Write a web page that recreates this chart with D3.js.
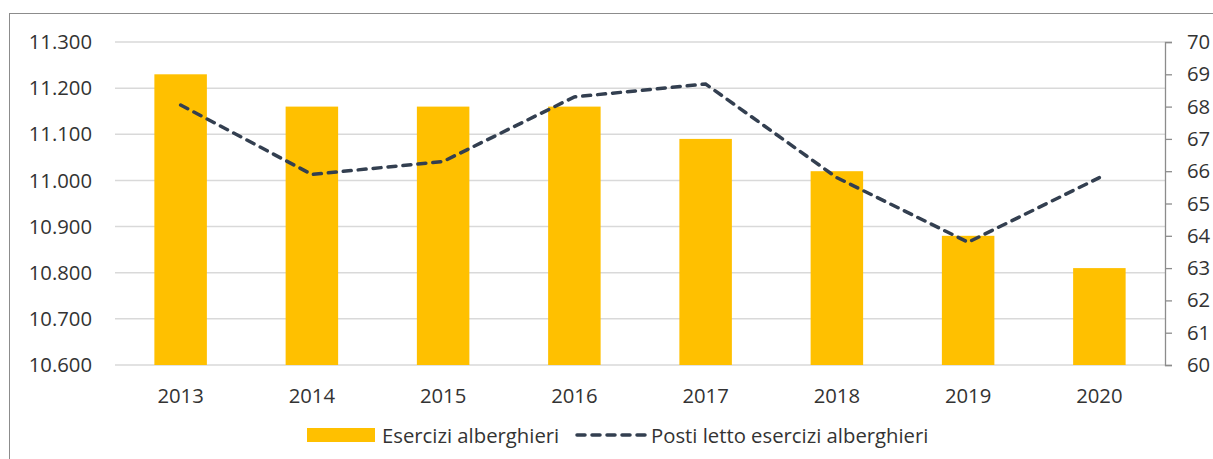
<!DOCTYPE html>
<html>
<head>
<meta charset="utf-8">
<script src="https://cdn.jsdelivr.net/npm/d3@7"></script>
<style>
  body { margin: 0; background: #fff; }
  svg { font-family: "Open Sans", sans-serif; }
</style>
</head>
<body>
<svg id="canvas" width="1213" height="459"></svg>
<script>
// chart data
let years = ['2013', '2014', '2015', '2016', '2017', '2018', '2019', '2020'];
let esercizi = [11230, 11160, 11160, 11160, 11090, 11020, 10880, 10810];
let postiLetto = [68.05, 65.9, 66.3, 68.3, 68.7, 65.8, 63.8, 65.8];
let leftTicks = [10600, 10700, 10800, 10900, 11000, 11100, 11200, 11300];
let rightTicks = [60, 61, 62, 63, 64, 65, 66, 67, 68, 69, 70];

let fontSize = '20.3px';
let textColor = '#333333';
let canvas = d3.select('#canvas');

// outer frame of the chart box
canvas.append('rect')
    .attr('x', 9.5).attr('y', 13.5)
    .attr('width', 1230).attr('height', 470)
    .attr('fill', 'none')
    .attr('stroke', '#8c8c8c')
    .attr('stroke-width', 1);

let plotLeft = 115, plotRight = 1165, plotTop = 42, plotBottom = 365;

let x = d3.scaleBand().domain(years).range([plotLeft, plotRight]).paddingInner(0.6).paddingOuter(0.3);
let yL = d3.scaleLinear().domain([10600, 11300]).range([plotBottom, plotTop]);
let yR = d3.scaleLinear().domain([60, 70]).range([plotBottom, plotTop]);

// gridlines
canvas.append('g')
    .selectAll('line')
    .data(leftTicks)
    .enter()
    .append('line')
    .attr('x1', plotLeft).attr('x2', plotRight)
    .attr('y1', d => yL(d)).attr('y2', d => yL(d))
    .attr('stroke', '#d9d9d9')
    .attr('stroke-width', 1.5);

// bars
canvas.append('g')
    .selectAll('rect')
    .data(esercizi)
    .enter()
    .append('rect')
    .attr('x', (d, i) => x(years[i]))
    .attr('y', d => yL(d))
    .attr('width', x.bandwidth())
    .attr('height', d => plotBottom - yL(d))
    .attr('fill', '#ffc000');

// dashed line
let line = d3.line()
    .x((d, i) => x(years[i]) + x.bandwidth() / 2)
    .y(d => yR(d));

canvas.append('path')
    .datum(postiLetto)
    .attr('d', line)
    .attr('fill', 'none')
    .attr('stroke', '#333f50')
    .attr('stroke-width', 3.5)
    .attr('stroke-dasharray', '8,7')
    .attr('stroke-linecap', 'round');

// left axis labels (italian thousands separator)
let fmtLeft = d => d3.format('.3f')(d / 1000);
canvas.append('g')
    .selectAll('text')
    .data(leftTicks)
    .enter()
    .append('text')
    .attr('x', 92)
    .attr('y', d => yL(d))
    .attr('dy', '0.35em')
    .attr('text-anchor', 'end')
    .style('font-size', fontSize)
    .attr('fill', textColor)
    .text(fmtLeft);

// right axis
let rAxis = d3.axisRight(yR).tickValues(rightTicks).tickSize(7).tickPadding(15).tickFormat(d3.format('d'));
let rg = canvas.append('g')
    .attr('transform', `translate(${plotRight},0)`)
    .call(rAxis);
rg.select('.domain').attr('stroke', '#8c8c8c').attr('stroke-width', 1.3);
rg.selectAll('.tick line').attr('stroke', '#8c8c8c').attr('stroke-width', 1.3);
rg.selectAll('.tick text')
    .style('font-size', fontSize)
    .style('font-family', '"Open Sans", sans-serif')
    .attr('fill', textColor);

// year labels
canvas.append('g')
    .selectAll('text')
    .data(years)
    .enter()
    .append('text')
    .attr('x', d => x(d) + x.bandwidth() / 2)
    .attr('y', 403)
    .attr('text-anchor', 'middle')
    .style('font-size', fontSize)
    .attr('fill', textColor)
    .text(d => d);

// legend
let legend = canvas.append('g');
legend.append('rect')
    .attr('x', 307).attr('y', 428)
    .attr('width', 68).attr('height', 14)
    .attr('fill', '#ffc000');
legend.append('text')
    .attr('x', 382).attr('y', 443)
    .style('font-size', fontSize)
    .attr('fill', textColor)
    .text('Esercizi alberghieri');
legend.append('line')
    .attr('x1', 577).attr('x2', 645)
    .attr('y1', 435).attr('y2', 435)
    .attr('stroke', '#333f50')
    .attr('stroke-width', 3.5)
    .attr('stroke-dasharray', '8,7')
    .attr('stroke-linecap', 'round');
legend.append('text')
    .attr('x', 651).attr('y', 443)
    .style('font-size', fontSize)
    .attr('fill', textColor)
    .text('Posti letto esercizi alberghieri');
</script>
</body>
</html>
